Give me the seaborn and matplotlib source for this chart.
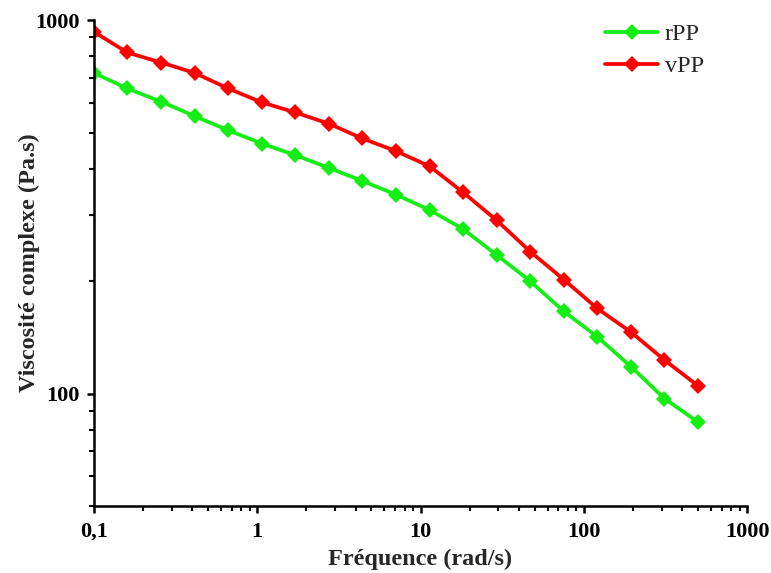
import pandas as pd
import seaborn as sns
import matplotlib.pyplot as plt
from matplotlib.ticker import FixedLocator, FixedFormatter, LogLocator, NullFormatter

# -----------------------------
# Data
# -----------------------------

freq = [0.1, 0.16, 0.258, 0.414, 0.664, 1.07, 1.71, 2.75, 4.41, 7.08,
        11.4, 18.2, 29.3, 47.0, 75.5, 121, 195, 312, 500]

visc_rPP = [722, 656, 605, 553, 507, 467, 435, 402, 371, 341,
            310, 276, 235, 200, 166, 142, 118, 97, 84]

visc_vPP = [930, 819, 770, 722, 656, 602, 566, 528, 482, 446,
            406, 346, 291, 240, 202, 169, 146, 123, 105]

samples = ["rPP", "vPP"]
colors = {"rPP": "#14ee14", "vPP": "#ff0000"}

df = pd.DataFrame({
    "freq": freq * 2,
    "visc": visc_rPP + visc_vPP,
    "sample": ["rPP"] * len(freq) + ["vPP"] * len(freq),
})

# -----------------------------
# Setup
# -----------------------------

sns.set_style("ticks")
plt.rcParams["font.family"] = ["Liberation Serif", "DejaVu Serif"]

fig = plt.figure(figsize=(7.71, 5.73), dpi=100)
ax = fig.add_axes([0.1219, 0.1169, 0.847, 0.848])

sns.lineplot(
    data=df, x="freq", y="visc", hue="sample", hue_order=samples,
    palette=colors, marker="D", markersize=8.5, markeredgewidth=0,
    linewidth=2.7, ax=ax,
)

ax.set_xscale("log")
ax.set_yscale("log")
ax.set_xlim(0.1, 1000)
ax.set_ylim(50, 1000)

xt = [0.1, 1, 10, 100, 1000]
ax.xaxis.set_major_locator(FixedLocator(xt))
ax.xaxis.set_major_formatter(FixedFormatter(["0,1", "1", "10", "100", "1000"]))
ax.xaxis.set_minor_locator(LogLocator(base=10, subs=range(2, 10), numticks=20))
ax.xaxis.set_minor_formatter(NullFormatter())

yt = [100, 1000]
ax.yaxis.set_major_locator(FixedLocator(yt))
ax.yaxis.set_major_formatter(FixedFormatter(["100", "1000"]))
ax.yaxis.set_minor_locator(LogLocator(base=10, subs=range(2, 10), numticks=20))
ax.yaxis.set_minor_formatter(NullFormatter())

for s in ["top", "right"]:
    ax.spines[s].set_visible(False)
for s in ["left", "bottom"]:
    ax.spines[s].set_linewidth(1.8)
    ax.spines[s].set_color("black")

ax.tick_params(which="major", direction="out", length=5, width=1.8,
               labelsize=16, colors="black")
ax.tick_params(which="minor", direction="out", length=3.5, width=1.5,
               colors="black")
ax.tick_params(axis="x", which="major", pad=6.5)
ax.tick_params(axis="y", which="major", pad=5.5)
for lab in ax.get_xticklabels() + ax.get_yticklabels():
    lab.set_fontweight("bold")

ax.set_xlabel("Fréquence (rad/s)", fontsize=17.5, fontweight="bold")
ax.set_ylabel("Viscosité complexe (Pa.s)", fontsize=17.5, fontweight="bold")
ax.xaxis.set_label_coords(0.5, -0.088)
ax.yaxis.set_label_coords(-0.083, 0.5)

handles, labels = ax.get_legend_handles_labels()
ax.legend(handles, labels, loc="upper left", frameon=False,
          prop={"family": "Liberation Serif", "size": 17.5},
          handlelength=2.2, handletextpad=0.25, labelspacing=0.42,
          borderpad=0, borderaxespad=0,
          bbox_to_anchor=(605 / 771, 1 - 23 / 573),
          bbox_transform=fig.transFigure)

fig.savefig("out.png", dpi=100)
plt.close()
